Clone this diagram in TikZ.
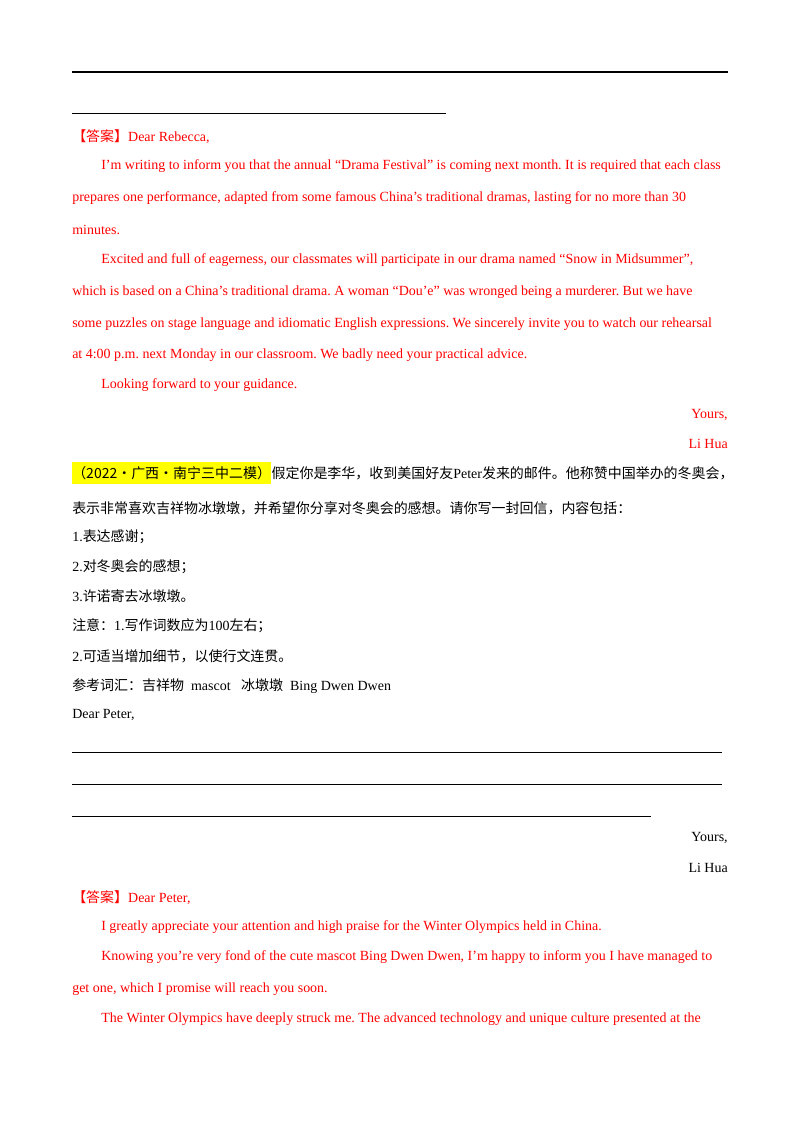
\documentclass[tikz,border=0pt]{standalone}
\usepackage{fontspec}
\setmainfont{Liberation Serif}
\newfontfamily\cjk{Noto Sans CJK SC}
\definecolor{ans}{RGB}{255,0,0}
\definecolor{hl}{RGB}{255,255,0}
\frenchspacing
\begin{document}
\begin{tikzpicture}[x=0.744pt,y=-0.744pt,
  t/.style={anchor=west,inner sep=0pt,font=\fontsize{10.4pt}{12pt}\selectfont\frenchspacing},
  r/.style={t,text=ans},
  e/.style={anchor=east,inner sep=0pt,font=\fontsize{10.4pt}{12pt}\selectfont},
  rule/.style={line width=0.5pt}]
\useasboundingbox (0,0) rectangle (800,1132);
\fill[white] (0,0) rectangle (800,1132);
\draw[line width=1.6pt] (72,72) -- (728,72);
\draw[rule] (72,113) -- (446,113);
\node[r] (a1) at (72,137) {{\cjk【答案】}Dear Rebecca,};
\node[r] (a2) at (101,166) {I’m writing to inform you that the annual “Drama Festival” is coming next month. It is required that each class};
\node[r] (a3) at (72,198) {prepares one performance, adapted from some famous China’s traditional dramas, lasting for no more than 30};
\node[r] (a4) at (72,230) {minutes.};
\node[r] (a5) at (101,260) {Excited and full of eagerness, our classmates will participate in our drama named “Snow in Midsummer”,};
\node[r] (a6) at (72,292) {which is based on a China’s traditional drama. A woman “Dou’e” was wronged being a murderer. But we have};
\node[r] (a7) at (72,324) {some puzzles on stage language and idiomatic English expressions. We sincerely invite you to watch our rehearsal};
\node[r] (a8) at (72,355) {at 4:00 p.m. next Monday in our classroom. We badly need your practical advice.};
\node[r] (a9) at (101,385) {Looking forward to your guidance.};
\node[e,text=ans] (a10) at (728,415) {Yours,};
\node[e,text=ans] (a11) at (728,444) {Li Hua};
\node[t,fill=hl,inner ysep=3pt] (q0) at (72,473) {\cjk（2022·广西·南宁三中二模）};
\node[t] (q1) at (q0.east) {{\cjk 假定你是李华，收到美国好友}Peter{\cjk 发来的邮件。他称赞中国举办的冬奥会，}};
\node[t] (q2) at (72,508) {\cjk 表示非常喜欢吉祥物冰墩墩，并希望你分享对冬奥会的感想。请你写一封回信，内容包括：};
\node[t] (q3) at (72,537) {1.{\cjk 表达感谢；}};
\node[t] (q4) at (72,567) {2.{\cjk 对冬奥会的感想；}};
\node[t] (q5) at (72,596) {3.{\cjk 许诺寄去冰墩墩。}};
\node[t] (q6) at (72,626) {{\cjk 注意：}1.{\cjk 写作词数应为}100{\cjk 左右；}};
\node[t] (q7) at (72,656) {2.{\cjk 可适当增加细节，以使行文连贯。}};
\node[t] (q8) at (72,686) {{\cjk 参考词汇：吉祥物}\ \ mascot\ \ \ {\cjk 冰墩墩}\ \ Bing Dwen Dwen};
\node[t] (q9) at (72,715) {Dear Peter,};
\draw[rule] (72,752) -- (722,752);
\draw[rule] (72,784) -- (722,784);
\draw[rule] (72,816) -- (651,816);
\node[e] (q10) at (728,838) {Yours,};
\node[e] (q11) at (728,868) {Li Hua};
\node[r] (b1) at (72,898) {{\cjk【答案】}Dear Peter,};
\node[r] (b2) at (101,927) {I greatly appreciate your attention and high praise for the Winter Olympics held in China.};
\node[r] (b3) at (101,957) {Knowing you’re very fond of the cute mascot Bing Dwen Dwen, I’m happy to inform you I have managed to};
\node[r] (b4) at (72,989) {get one, which I promise will reach you soon.};
\node[r] (b5) at (101,1019) {The Winter Olympics have deeply struck me. The advanced technology and unique culture presented at the};
\end{tikzpicture}
\end{document}
